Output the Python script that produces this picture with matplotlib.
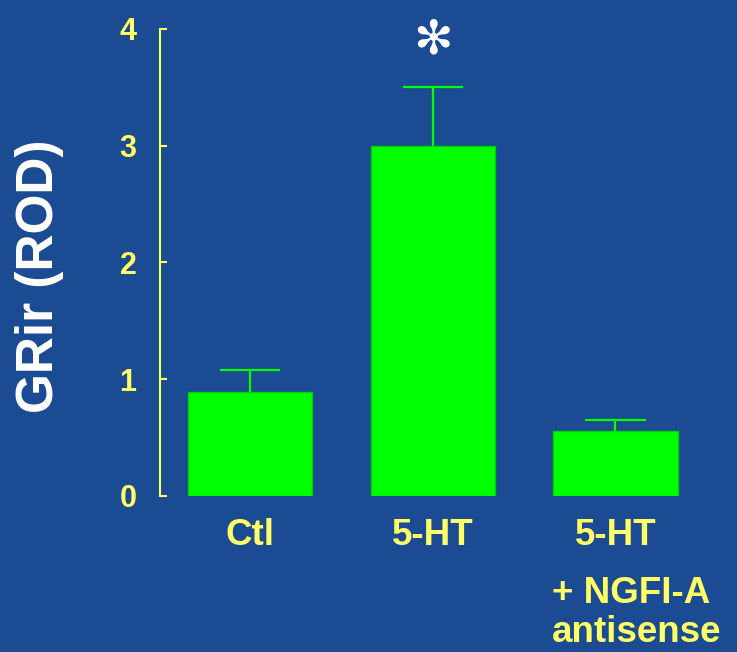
import numpy as np
import matplotlib.pyplot as plt
from matplotlib import transforms

# values
groups = ['Ctl', '5-HT', '5-HT']
means = [0.89, 3.0, 0.56]
errs = [0.19, 0.50, 0.09]
extra_label = '+ NGFI-A\nantisense'
yticks = [0, 1, 2, 3, 4]

bg = '#1b4b92'
yellow = '#ffff66'
green = '#00ff00'

fig = plt.figure(figsize=(7.37, 6.52), dpi=100, facecolor=bg)
ax = fig.add_axes([0.2171, 0.2393, 0.742, 0.7163])
ax.set_facecolor(bg)

x = np.arange(len(groups))
tops = np.array(means) + np.array(errs)
ax.bar(x, means, width=0.68, color=green, edgecolor='#00d000', linewidth=1, zorder=2)
# upper error bars only
ax.vlines(x, means, tops, color=green, linewidth=1.6, zorder=1)
ax.hlines(tops, x - 0.165, x + 0.165, color=green, linewidth=1.6, zorder=1)

ax.set_xlim(-0.492, 2.5)
ax.set_ylim(0, 4)
ax.set_yticks(yticks)
ax.set_yticklabels([str(t) for t in yticks])
ax.set_xticks(x)
ax.set_xticklabels(groups)

for s in ['top', 'right', 'bottom']:
    ax.spines[s].set_visible(False)
ax.spines['left'].set_color(yellow)
ax.spines['left'].set_linewidth(1.5)

ax.tick_params(axis='y', direction='in', length=5, width=1.5, color=yellow,
               labelcolor=yellow, labelsize=22, pad=17)
ax.tick_params(axis='x', length=0, labelcolor=yellow, labelsize=26.5, pad=16)
for lab in ax.get_xticklabels() + ax.get_yticklabels():
    lab.set_fontfamily('Liberation Sans')
    lab.set_fontweight('bold')

# second and third line under the last group
trans = transforms.blended_transform_factory(ax.transData, ax.transAxes)
ax.text(2 - 0.35, -0.171, extra_label, transform=trans, ha='left', va='top',
        color=yellow, fontsize=26.5, fontweight='bold', family='Liberation Sans',
        linespacing=1.15)

ax.set_ylabel('GRir (ROD)', color='white', fontsize=37, fontweight='bold',
              family='Liberation Sans')
ax.yaxis.set_label_coords(-0.175, 0.47)

# significance marker
ax.text(1, 3.9, '\u273b', ha='center', va='center', color='white', fontsize=34,
        family='DejaVu Sans', clip_on=False)

fig.savefig('out.png', dpi=100, facecolor=bg)
